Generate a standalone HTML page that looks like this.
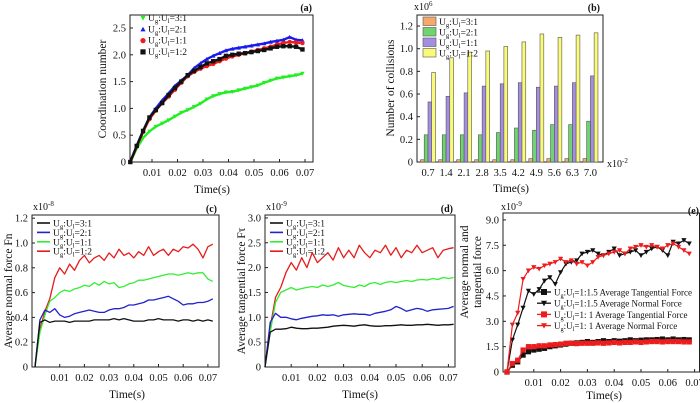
<!DOCTYPE html>
<html><head><meta charset="utf-8"><style>
html,body{margin:0;padding:0;background:#fff;}
svg{display:block;font-family:"Liberation Serif",serif;}
</style></head><body>
<svg id="fig" width="700" height="403" viewBox="0 0 700 403" xmlns="http://www.w3.org/2000/svg"></svg>
<script>
// ---------- Panel (a) data ----------
const aTime = [0.0015,0.004,0.0065,0.009,0.0115,0.014,0.0165,0.019,0.0215,0.024,0.0265,0.029,0.0315,0.034,0.0365,0.039,0.0415,0.044,0.0465,0.049,0.0515,0.054,0.0565,0.059,0.0615,0.064,0.0665,0.069];
const aGreen = [0,0.25,0.45,0.57,0.66,0.72,0.78,0.85,0.92,0.97,1.03,1.09,1.17,1.23,1.27,1.30,1.31,1.34,1.37,1.40,1.43,1.48,1.52,1.56,1.58,1.60,1.62,1.65];
const aBlue = [0,0.30,0.58,0.83,1.00,1.15,1.28,1.42,1.52,1.62,1.75,1.84,1.92,1.98,2.03,2.08,2.11,2.13,2.15,2.17,2.19,2.21,2.24,2.26,2.28,2.33,2.28,2.27];
const aRed = [0,0.29,0.56,0.80,0.96,1.10,1.22,1.35,1.48,1.60,1.68,1.74,1.79,1.83,1.88,1.93,1.97,2.00,2.03,2.06,2.09,2.12,2.15,2.19,2.22,2.24,2.23,2.22];
const aBlack = [0,0.30,0.58,0.83,0.97,1.10,1.25,1.38,1.50,1.62,1.70,1.77,1.84,1.88,1.92,1.98,2.00,2.02,2.03,2.05,2.07,2.09,2.12,2.15,2.16,2.16,2.15,2.10];
const aYTicks = [0,0.5,1.0,1.5,2.0,2.5];
const aYLabels = ["0","0.5","1.0","1.5","2.0","2.5"];
const aXTicks = [0.01,0.02,0.03,0.04,0.05,0.06,0.07];
// ---------- Panel (b) data ----------
const bCats = ["0.7","1.4","2.1","2.8","3.5","4.2","4.9","5.6","6.3","7.0"];
const bOrange = [0.02,0.02,0.02,0.02,0.02,0.02,0.03,0.03,0.03,0.03];
const bGreen = [0.24,0.24,0.24,0.24,0.26,0.30,0.28,0.33,0.33,0.36];
const bPurple = [0.53,0.58,0.61,0.67,0.69,0.70,0.66,0.67,0.70,0.76];
const bYellow = [0.79,0.92,0.97,0.98,1.02,1.06,1.13,1.10,1.12,1.14];
const bYTicks = [0,0.2,0.4,0.6,0.8,1.0,1.2];
const bYLabels = ["0","0.2","0.4","0.6","0.8","1.0","1.2"];
// ---------- Panel (c) data ----------
const cdTime = [0,0.002,0.004,0.006,0.008,0.010,0.012,0.014,0.016,0.018,0.020,0.022,0.024,0.026,0.028,0.030,0.032,0.034,0.036,0.038,0.040,0.042,0.044,0.046,0.048,0.050,0.052,0.054,0.056,0.058,0.060,0.062,0.064,0.066,0.068,0.070,0.072];
const cRed = [0,0.30,0.45,0.55,0.72,0.80,0.75,0.83,0.78,0.86,0.90,0.84,0.88,0.90,0.86,0.92,0.88,0.95,0.90,0.92,0.88,0.93,0.90,0.97,0.90,0.93,0.95,0.90,0.95,0.93,0.97,0.96,0.99,0.95,0.88,0.97,0.99];
const cGreen = [0,0.28,0.42,0.53,0.56,0.60,0.62,0.61,0.63,0.64,0.66,0.65,0.68,0.66,0.69,0.67,0.68,0.64,0.65,0.67,0.68,0.70,0.70,0.71,0.72,0.73,0.74,0.75,0.75,0.74,0.75,0.76,0.75,0.76,0.76,0.71,0.69];
const cBlue = [0,0.38,0.46,0.44,0.47,0.42,0.40,0.41,0.43,0.44,0.45,0.46,0.45,0.44,0.44,0.46,0.47,0.47,0.48,0.50,0.50,0.51,0.52,0.54,0.54,0.55,0.56,0.57,0.55,0.53,0.50,0.51,0.51,0.52,0.52,0.53,0.55];
const cBlack = [0,0.36,0.38,0.36,0.37,0.37,0.37,0.36,0.37,0.37,0.37,0.37,0.38,0.38,0.38,0.38,0.39,0.38,0.39,0.38,0.37,0.37,0.37,0.38,0.38,0.39,0.38,0.38,0.38,0.37,0.38,0.38,0.37,0.38,0.37,0.38,0.37];
const cYTicks = [0,0.2,0.4,0.6,0.8,1.0,1.2];
const cYLabels = ["0","0.2","0.4","0.6","0.8","1.0","1.2"];
// ---------- Panel (d) data ----------
const dRed = [0,0.8,1.4,1.6,1.9,2.1,1.95,2.2,2.0,2.3,2.1,2.2,2.3,2.15,2.4,2.2,2.35,2.2,2.45,2.3,2.2,2.35,2.3,2.45,2.25,2.4,2.2,2.35,2.3,2.45,2.3,2.35,2.4,2.2,2.35,2.38,2.4];
const dGreen = [0,0.7,1.3,1.5,1.55,1.6,1.55,1.58,1.6,1.62,1.6,1.65,1.62,1.65,1.7,1.64,1.62,1.6,1.65,1.62,1.68,1.7,1.66,1.7,1.72,1.7,1.72,1.74,1.72,1.75,1.76,1.75,1.78,1.76,1.8,1.78,1.8];
const dBlue = [0,0.9,1.08,1.0,1.0,0.97,0.95,0.98,1.0,1.02,1.03,1.05,1.04,1.05,1.02,1.05,1.06,1.07,1.06,1.06,1.04,1.08,1.10,1.12,1.15,1.22,1.18,1.12,1.15,1.18,1.16,1.12,1.15,1.16,1.17,1.18,1.22];
const dBlack = [0,0.7,0.76,0.76,0.77,0.8,0.78,0.77,0.77,0.78,0.78,0.79,0.8,0.82,0.83,0.84,0.83,0.82,0.84,0.85,0.83,0.82,0.82,0.83,0.83,0.84,0.85,0.84,0.84,0.85,0.85,0.86,0.85,0.84,0.85,0.85,0.86];
const dYTicks = [0,0.5,1.0,1.5,2.0,2.5,3.0];
const dYLabels = ["0","0.5","1.0","1.5","2.0","2.5","3.0"];
const cdXTicks = [0.01,0.02,0.03,0.04,0.05,0.06,0.07];
// ---------- Panel (e) data ----------
const eTime = [0,0.002,0.004,0.006,0.008,0.010,0.012,0.014,0.016,0.018,0.020,0.022,0.024,0.026,0.028,0.030,0.032,0.034,0.036,0.038,0.040,0.042,0.044,0.046,0.048,0.050,0.052,0.054,0.056,0.058,0.060,0.062,0.064,0.066,0.068];
const eRedNormal = [0,2.8,3.5,5.5,6.0,6.2,6.1,6.3,6.4,6.5,6.7,6.5,6.6,6.4,6.5,6.3,6.5,6.8,6.9,7.0,7.1,7.2,7.0,7.3,7.4,7.5,7.4,7.5,7.4,7.3,7.5,7.6,7.4,7.2,7.0];
const eBlackNormal = [0,1.9,2.8,3.8,4.8,4.6,4.9,5.4,5.6,5.2,5.9,6.4,6.5,6.6,7.0,7.1,7.2,7.0,6.9,7.1,7.3,6.9,7.0,7.1,7.2,6.9,7.1,7.3,7.4,7.2,6.9,7.7,7.6,7.8,7.6];
const eRedTang = [0,0.5,0.7,1.3,1.5,1.5,1.55,1.55,1.6,1.62,1.65,1.7,1.7,1.68,1.7,1.7,1.7,1.72,1.7,1.72,1.75,1.72,1.75,1.75,1.78,1.75,1.78,1.8,1.8,1.78,1.8,1.8,1.8,1.78,1.78];
const eBlackTang = [0,0.4,0.6,1.0,1.2,1.3,1.35,1.4,1.5,1.55,1.6,1.65,1.7,1.72,1.75,1.8,1.75,1.8,1.85,1.8,1.85,1.82,1.85,1.9,1.85,1.88,1.9,1.9,1.92,1.95,1.9,1.95,1.9,1.92,1.9];
const eYTicks = [0,1.5,3.0,4.5,6.0,7.5,9.0];
const eYLabels = ["0","1.5","3.0","4.5","6.0","7.5","9.0"];
const eXTicks = [0.01,0.02,0.03,0.04,0.05,0.06,0.07];

const NS = "http://www.w3.org/2000/svg";
const fig = document.getElementById('fig');
function el(tag, attrs, parent){
  const e = document.createElementNS(NS, tag);
  for (const k in attrs) e.setAttribute(k, attrs[k]);
  (parent||fig).appendChild(e);
  return e;
}
function group(name){
  const g = el('g', {});
  
  
  return g;
}
function text(parent, x, y, str, opts){
  opts = opts || {};
  const t = el('text', {x:x, y:y, 'font-size':opts.size||10, 'text-anchor':opts.anchor||'start', fill:'#111'}, parent);
  if (opts.rotate) t.setAttribute('transform', 'rotate(-90 '+x+' '+y+')');
  if (opts.weight) t.setAttribute('font-weight', opts.weight);
  t.textContent = str;
  return t;
}
function ugText(parent, x, y, a, b, rest, size){
  const t = el('text', {x:x, y:y, 'font-size':size, fill:'#111'}, parent);
  const parts = [['U',0],['g',1],[':U',0],['l',1],[rest,0]];
  parts.forEach(p=>{
    const s = el('tspan', {}, t);
    if (p[1]) { s.setAttribute('font-size', size*0.7); s.setAttribute('dy', 2); }
    else if (t.childNodes.length>1) { s.setAttribute('dy', -2); }
    s.textContent = p[0];
  });
  return t;
}
function supText(parent, x, y, base, exp, size){
  const t = el('text', {x:x, y:y, 'font-size':size, fill:'#111'}, parent);
  const a = el('tspan', {}, t); a.textContent = base;
  const b = el('tspan', {'font-size':size*0.7, dy:-4}, t); b.textContent = exp;
  return t;
}
function frame(g, box){
  const r = el('rect', {x:box.l, y:box.t, width:box.r-box.l, height:box.b-box.t, fill:'none', stroke:'#222', 'stroke-width':1}, g);
  
  
}
function yAxis(g, box, yf, ticks, labels){
  const ax = group('y-axis'); g.appendChild(ax);
  ticks.forEach((v,i)=>{
    const y = yf(v);
    el('line', {x1:box.l, x2:box.l+3, y1:y, y2:y, stroke:'#222'}, ax);
    const t = text(ax, box.l-4, y+3.5, labels[i], {anchor:'end', size:10.5});
    
    
  });
}
function xAxis(g, box, xf, ticks){
  const ax = group('x-axis'); g.appendChild(ax);
  ticks.forEach(v=>{
    const x = xf(v);
    el('line', {x1:x, x2:x, y1:box.b, y2:box.b-3, stroke:'#222'}, ax);
    const t = text(ax, x, box.b+14, v.toFixed(2), {anchor:'middle', size:10.5});
    
    
  });
}
function line(g, xs, ys, xf, yf, color, w, name){
  const pts = xs.map((t,i)=>xf(t).toFixed(1)+','+yf(ys[i]).toFixed(1)).join(' ');
  const p = el('polyline', {points:pts, fill:'none', stroke:color, 'stroke-width':w||1.2, 'stroke-linejoin':'round'}, g);
  
  
  return p;
}
function marker(g, x, y, shape, color, s){
  if (shape==='sq') return el('rect', {x:x-s, y:y-s, width:2*s, height:2*s, fill:color}, g);
  if (shape==='ci') return el('circle', {cx:x, cy:y, r:s, fill:color}, g);
  if (shape==='up') return el('polygon', {points:`${x},${y-s} ${x-s},${y+s*0.8} ${x+s},${y+s*0.8}`, fill:color}, g);
  return el('polygon', {points:`${x},${y+s} ${x-s},${y-s*0.8} ${x+s},${y-s*0.8}`, fill:color}, g);
}
function markers(g, xs, ys, xf, yf, shape, color, s, name){
  const mg = group(name); g.appendChild(mg);
  xs.forEach((t,i)=>marker(mg, xf(t), yf(ys[i]), shape, color, s));
}

// ===== Panel (a) =====
(function(){
  const g = group('panel-a-coordination-number');
  const box = {l:130, r:313, t:15, b:162};
  const xf = t => 126.5 + t*2550;
  const yf = v => 162 - v*53.6;
  frame(g, box);
  yAxis(g, box, yf, aYTicks, aYLabels);
  xAxis(g, box, xf, aXTicks);
  const series = [[aGreen,'#22ee22','dn','series-3-1'],[aBlue,'#1a1aee','up','series-2-1'],[aRed,'#ee1c1c','ci','series-1-1'],[aBlack,'#111','sq','series-1-2']];
  series.forEach(s=>{
    line(g, aTime, s[0], xf, yf, s[1], 2.4, s[3]+'-line');
    markers(g, aTime, s[0], xf, yf, s[2], s[1], 2.2, s[3]+'-markers');
  });
  const lg = group('legend-a'); g.appendChild(lg);
  const labels = ['=3:1','=2:1','=1:1','=1:2'];
  [[ '#22ee22','dn'],['#1a1aee','up'],['#ee1c1c','ci'],['#111','sq']].forEach((s,i)=>{
    const y = 21 + i*11.3;
    marker(lg, 143, y-3, s[1], s[0], 2.6);
    const t = ugText(lg, 148, y, 'U','l', labels[i], 9.5);
    
    
  });
  const tl = text(g, 312, 11, '(a)', {anchor:'end', size:10, weight:'bold'});
  
  
  const yt = text(g, 106, 89, 'Coordination number', {anchor:'middle', size:11.5, rotate:true});
  
  
  const xt = text(g, 212, 193, 'Time(s)', {anchor:'middle', size:11.5});
  
  
})();

// ===== Panel (b) =====
(function(){
  const g = group('panel-b-collisions');
  const box = {l:417, r:603, t:15, b:162};
  const yf = v => 162 - v*113.3;
  const xc = i => 428 + i*18.05;
  frame(g, box);
  yAxis(g, box, yf, bYTicks, bYLabels);
  const series = [[bOrange,'#f7a86a',-5.6,'bars-3-1'],[bGreen,'#6fd46f',-1.9,'bars-2-1'],[bPurple,'#a38ee0',1.9,'bars-1-1'],[bYellow,'#fafa7a',5.6,'bars-1-2']];
  series.forEach(s=>{
    const bg = group(s[3]); g.appendChild(bg);
    s[0].forEach((v,i)=>{
      const x = xc(i)+s[2]-1.9;
      const r = el('rect', {x:x, y:yf(v), width:3.8, height:162-yf(v), fill:s[1], stroke:'#555', 'stroke-width':0.6}, bg);
      
      
    });
  });
  const xa = group('x-axis'); g.appendChild(xa);
  bCats.forEach((c,i)=>{
    const t = text(xa, xc(i), 176, c, {anchor:'middle', size:10.5});
    
    
  });
  const lg = group('legend-b'); g.appendChild(lg);
  const labels = ['=3:1','=2:1','=1:1','=1:2'];
  ['#f7a86a','#6fd46f','#a38ee0','#fafa7a'].forEach((c,i)=>{
    const y = 17 + i*10.5;
    el('rect', {x:423, y:y, width:13, height:8.5, fill:c, stroke:'#555', 'stroke-width':0.6}, lg);
    const t = ugText(lg, 439, y+8, 'U','l', labels[i], 9.5);
    
    
  });
  const e6 = supText(g, 414, 10, 'x10', '6', 10);
  
  
  const e2 = supText(g, 607, 167, 'x10', '-2', 10);
  
  
  const tl = text(g, 600, 11, '(b)', {anchor:'end', size:10, weight:'bold'});
  
  
  const yt = text(g, 394, 88, 'Number of collisions', {anchor:'middle', size:11.5, rotate:true});
  
  
  const xt = text(g, 511, 192, 'Time(s)', {anchor:'middle', size:11.5});
  
  
})();

// ===== Panels (c) and (d) =====
function forcePanel(name, box, xf, yf, yt, yl, data, label, ylab, exp, xtitleX){
  const g = group(name);
  frame(g, box);
  yAxis(g, box, yf, yt, yl);
  xAxis(g, box, xf, cdXTicks);
  const cols = ['#e51c1c','#33ee33','#2222cc','#111'];
  const names = ['series-1-2','series-1-1','series-2-1','series-3-1'];
  data.forEach((d,i)=>line(g, cdTime, d, xf, yf, cols[i], 1.3, names[i]+'-line'));
  const lg = group('legend'); g.appendChild(lg);
  const labs = ['=3:1','=2:1','=1:1','=1:2'];
  const lc = ['#111','#2222cc','#33ee33','#e51c1c'];
  labs.forEach((s,i)=>{
    const y = 223 + i*9.4;
    el('line', {x1:box.l+5, x2:box.l+18, y1:y, y2:y, stroke:lc[i], 'stroke-width':1.6}, lg);
    const t = ugText(lg, box.l+21, y+3.5, 'U','l', s, 9.5);
    
    
  });
  const tl = text(g, box.r-2, 212, label, {anchor:'end', size:10, weight:'bold'});
  
  
  const ex = supText(g, box.l+1, 210, 'x10', exp, 10);
  
  
  const ytl = text(g, box.l-20, 291, ylab, {anchor:'middle', size:11.5, rotate:true});
  
  
  const xt = text(g, xtitleX, 398, 'Time(s)', {anchor:'middle', size:11.5});
  
  
}
forcePanel('panel-c-normal-force', {l:32,r:219,t:215,b:367}, t=>35+t*2470, v=>367-v*124, cYTicks, cYLabels, [cRed,cGreen,cBlue,cBlack], '(c)', 'Average normal force Fn', '-8', 127);
forcePanel('panel-d-tangential-force', {l:265,r:455,t:215,b:367}, t=>265+t*2620, v=>367-v*49.7, dYTicks, dYLabels, [dRed,dGreen,dBlue,dBlack], '(d)', 'Average tangential force F\u03c4', '-9', 360);

// ===== Panel (e) =====
(function(){
  const g = group('panel-e-force-comparison');
  const box = {l:503, r:699.5, t:213, b:372};
  const xf = t => 507 + t*2680;
  const yf = v => 372 - v*16.9;
  frame(g, box);
  yAxis(g, box, yf, eYTicks, eYLabels);
  xAxis(g, box, xf, eXTicks);
  const ser = [[eBlackNormal,'#111','dn','black-normal'],[eRedNormal,'#ee1c1c','dn','red-normal'],[eBlackTang,'#111','sq','black-tangential'],[eRedTang,'#ee1c1c','sq','red-tangential']];
  ser.forEach(s=>{
    line(g, eTime, s[0], xf, yf, s[1], 1.2, s[3]+'-line');
    markers(g, eTime, s[0], xf, yf, s[2], s[1], 2.6, s[3]+'-markers');
  });
  const lg = group('legend-e'); g.appendChild(lg);
  const items = [['#111','sq','=1:1.5 Average Tangential Force'],['#111','dn','=1:1.5 Average Normal Force'],['#ee1c1c','sq','=1:  1  Average Tangential Force'],['#ee1c1c','dn','=1:  1  Average Normal Force']];
  items.forEach((it,i)=>{
    const y = 292 + i*11.2;
    el('line', {x1:537, x2:551, y1:y, y2:y, stroke:it[0], 'stroke-width':1.3}, lg);
    marker(lg, 544, y, it[1], it[0], 3);
    const t = ugText(lg, 554, y+3.5, 'U','l', it[2], 9);
    t.setAttribute('xml:space','preserve');
    
    
  });
  const ex = supText(g, 501, 210, 'x10', '-9', 10);
  
  
  const tl = text(g, 699, 214, '(e)', {anchor:'end', size:10, weight:'bold'});
  
  
  const y1 = text(g, 468, 272, 'Average normal and', {anchor:'middle', size:11.5, rotate:true});
  
  
  const y2 = text(g, 481, 272, 'tangential force', {anchor:'middle', size:11.5, rotate:true});
  
  
  const xt = text(g, 604, 399, 'Time(s)', {anchor:'middle', size:11.5});
  
  
})();
</script>
</body></html>
